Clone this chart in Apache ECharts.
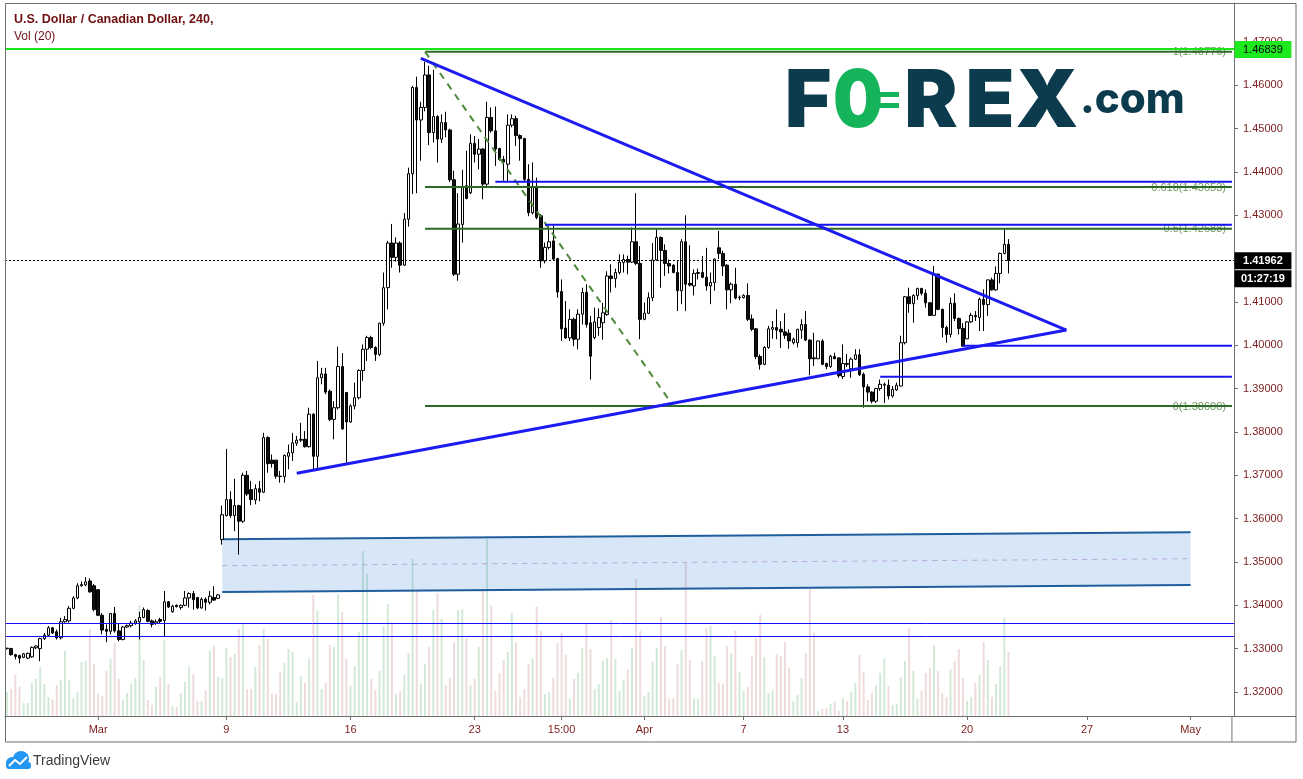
<!DOCTYPE html>
<html>
<head>
<meta charset="utf-8">
<title>U.S. Dollar / Canadian Dollar, 240</title>
<script src="https://cdn.jsdelivr.net/npm/echarts@6/dist/echarts.min.js"></script>
<style>
  html, body { margin: 0; padding: 0; background: #fff; }
  #chart { width: 1303px; height: 779px; }
</style>
</head>
<body>
<div id="chart"></div>
<script>
// 4h USD/CAD candles
const opens = [
  1.3300, 1.3300, 1.3286, 1.3284, 1.3280, 1.3278, 1.3281, 1.3302, 1.3300, 1.3323,
  1.3331, 1.3348, 1.3339, 1.3325, 1.3362, 1.3364, 1.3393, 1.3417, 1.3445, 1.3447,
  1.3456, 1.3445, 1.3436, 1.3377, 1.3344, 1.3340, 1.3381, 1.3341, 1.3321, 1.3350,
  1.3353, 1.3359, 1.3362, 1.3372, 1.3388, 1.3364, 1.3359, 1.3367, 1.3365, 1.3408,
  1.3385, 1.3400, 1.3395, 1.3400, 1.3417, 1.3427, 1.3418, 1.3394, 1.3414, 1.3407,
  1.3418, 1.3416, 1.3552, 1.3607, 1.3644, 1.3607, 1.3630, 1.3594, 1.3700, 1.3667,
  1.3643, 1.3669, 1.3661, 1.3787, 1.3735, 1.3735, 1.3698, 1.3697, 1.3744, 1.3752,
  1.3774, 1.3781, 1.3783, 1.3766, 1.3841, 1.3744, 1.3925, 1.3934, 1.3894, 1.3829,
  1.3856, 1.3951, 1.3891, 1.3823, 1.3860, 1.3879, 1.3942, 1.3991, 1.4018, 1.3995,
  1.3979, 1.4051, 1.4133, 1.4236, 1.4203, 1.4236, 1.4185, 1.4291, 1.4396, 1.4595,
  1.4520, 1.4549, 1.4624, 1.4491, 1.4528, 1.4476, 1.4514, 1.4497, 1.4382, 1.4164,
  1.4279, 1.4368, 1.4352, 1.4466, 1.4441, 1.4453, 1.4372, 1.4526, 1.4495, 1.4454,
  1.4429, 1.4418, 1.4508, 1.4523, 1.4484, 1.4477, 1.4383, 1.4306, 1.4364, 1.4299,
  1.4195, 1.4226, 1.4241, 1.4200, 1.4124, 1.4040, 1.4017, 1.4060, 1.4014, 1.4072,
  1.4122, 1.4052, 1.4018, 1.4041, 1.4052, 1.4071, 1.4160, 1.4154, 1.4168, 1.4191,
  1.4198, 1.4192, 1.4239, 1.4189, 1.4060, 1.4074, 1.4110, 1.4197, 1.4249, 1.4219,
  1.4189, 1.4185, 1.4168, 1.4126, 1.4239, 1.4143, 1.4137, 1.4166, 1.4168, 1.4157,
  1.4137, 1.4145, 1.4225, 1.4212, 1.4185, 1.4128, 1.4141, 1.4110, 1.4110, 1.4115,
  1.4061, 1.4038, 1.3974, 1.3956, 1.3995, 1.4037, 1.4041, 1.4037, 1.4031, 1.4028,
  1.4006, 1.4006, 1.4035, 1.4048, 1.4012, 1.3971, 1.3969, 1.4010, 1.3958, 1.3951,
  1.3974, 1.3971, 1.3928, 1.3958, 1.3946, 1.3968, 1.3978, 1.3933, 1.3904, 1.3892,
  1.3871, 1.3900, 1.3908, 1.3908, 1.3883, 1.3897, 1.3906, 1.4006, 1.4112, 1.4096,
  1.4115, 1.4131, 1.4120, 1.4098, 1.4069, 1.4164, 1.4083, 1.4041, 1.4025, 1.4097,
  1.4062, 1.4039, 1.4015, 1.4054, 1.4069, 1.4064, 1.4106, 1.4094, 1.4151, 1.4128,
  1.4166, 1.4212, 1.4233
];
const highs = [
  1.3302, 1.3302, 1.3288, 1.3286, 1.3290, 1.3291, 1.3305, 1.3308, 1.3325, 1.3336,
  1.3352, 1.3350, 1.3344, 1.3371, 1.3375, 1.3398, 1.3421, 1.3451, 1.3455, 1.3465,
  1.3462, 1.3449, 1.3437, 1.3382, 1.3356, 1.3382, 1.3396, 1.3358, 1.3352, 1.3356,
  1.3364, 1.3368, 1.3385, 1.3395, 1.3391, 1.3367, 1.3367, 1.3371, 1.3433, 1.3410,
  1.3401, 1.3402, 1.3402, 1.3433, 1.3430, 1.3433, 1.3418, 1.3418, 1.3418, 1.3433,
  1.3444, 1.3426, 1.3630, 1.3761, 1.3663, 1.3692, 1.3632, 1.3706, 1.3710, 1.3687,
  1.3679, 1.3687, 1.3798, 1.3790, 1.3748, 1.3735, 1.3710, 1.3748, 1.3771, 1.3798,
  1.3791, 1.3821, 1.3802, 1.3856, 1.3843, 1.3964, 1.3948, 1.3948, 1.3898, 1.3871,
  1.3997, 1.3982, 1.3891, 1.3864, 1.3914, 1.3945, 1.4002, 1.4022, 1.4022, 1.3998,
  1.4052, 1.4168, 1.4241, 1.4280, 1.4249, 1.4240, 1.4305, 1.4410, 1.4599, 1.4620,
  1.4562, 1.4654, 1.4645, 1.4636, 1.4531, 1.4533, 1.4539, 1.4500, 1.4403, 1.4351,
  1.4405, 1.4449, 1.4487, 1.4483, 1.4476, 1.4455, 1.4562, 1.4549, 1.4551, 1.4456,
  1.4437, 1.4533, 1.4533, 1.4530, 1.4487, 1.4479, 1.4418, 1.4422, 1.4387, 1.4303,
  1.4237, 1.4275, 1.4277, 1.4202, 1.4152, 1.4102, 1.4083, 1.4064, 1.4083, 1.4133,
  1.4141, 1.4068, 1.4087, 1.4085, 1.4098, 1.4171, 1.4187, 1.4177, 1.4210, 1.4210,
  1.4207, 1.4272, 1.4351, 1.4229, 1.4099, 1.4122, 1.4236, 1.4268, 1.4251, 1.4233,
  1.4198, 1.4187, 1.4195, 1.4245, 1.4300, 1.4231, 1.4175, 1.4177, 1.4206, 1.4225,
  1.4168, 1.4200, 1.4264, 1.4218, 1.4187, 1.4145, 1.4179, 1.4115, 1.4118, 1.4143,
  1.4071, 1.4040, 1.3979, 1.3998, 1.4045, 1.4056, 1.4083, 1.4056, 1.4074, 1.4037,
  1.4018, 1.4038, 1.4060, 1.4079, 1.4014, 1.4029, 1.4011, 1.4014, 1.3960, 1.3978,
  1.3983, 1.3972, 1.4002, 1.3980, 1.3972, 1.3991, 1.3991, 1.3937, 1.3910, 1.3894,
  1.3902, 1.3921, 1.3914, 1.3921, 1.3906, 1.3914, 1.4022, 1.4114, 1.4133, 1.4118,
  1.4133, 1.4133, 1.4129, 1.4100, 1.4183, 1.4166, 1.4085, 1.4045, 1.4110, 1.4120,
  1.4064, 1.4051, 1.4056, 1.4075, 1.4079, 1.4110, 1.4129, 1.4152, 1.4156, 1.4182,
  1.4214, 1.4268, 1.4245
];
const lows = [
  1.3298, 1.3284, 1.3275, 1.3266, 1.3278, 1.3276, 1.3279, 1.3299, 1.3271, 1.3320,
  1.3329, 1.3334, 1.3321, 1.3321, 1.3360, 1.3360, 1.3391, 1.3414, 1.3443, 1.3444,
  1.3429, 1.3386, 1.3375, 1.3333, 1.3315, 1.3333, 1.3337, 1.3317, 1.3319, 1.3348,
  1.3349, 1.3355, 1.3321, 1.3370, 1.3361, 1.3349, 1.3355, 1.3359, 1.3329, 1.3394,
  1.3383, 1.3395, 1.3390, 1.3398, 1.3395, 1.3390, 1.3391, 1.3392, 1.3388, 1.3402,
  1.3410, 1.3414, 1.3540, 1.3605, 1.3602, 1.3571, 1.3517, 1.3590, 1.3652, 1.3631,
  1.3633, 1.3640, 1.3659, 1.3706, 1.3718, 1.3692, 1.3683, 1.3683, 1.3714, 1.3733,
  1.3768, 1.3777, 1.3764, 1.3764, 1.3714, 1.3710, 1.3910, 1.3887, 1.3825, 1.3783,
  1.3852, 1.3805, 1.3729, 1.3821, 1.3852, 1.3875, 1.3918, 1.3964, 1.3991, 1.3964,
  1.3975, 1.4045, 1.4083, 1.4179, 1.4193, 1.4168, 1.4183, 1.4274, 1.4349, 1.4351,
  1.4426, 1.4540, 1.4462, 1.4468, 1.4422, 1.4467, 1.4480, 1.4377, 1.4160, 1.4149,
  1.4237, 1.4337, 1.4349, 1.4422, 1.4406, 1.4337, 1.4368, 1.4491, 1.4414, 1.4426,
  1.4380, 1.4376, 1.4503, 1.4460, 1.4426, 1.4376, 1.4298, 1.4302, 1.4291, 1.4179,
  1.4189, 1.4221, 1.4195, 1.4110, 1.4010, 1.4015, 1.4010, 1.3998, 1.3991, 1.4048,
  1.4041, 1.3921, 1.4014, 1.4022, 1.4013, 1.4068, 1.4122, 1.4133, 1.4164, 1.4168,
  1.4164, 1.4190, 1.4185, 1.4014, 1.4058, 1.4072, 1.4102, 1.4195, 1.4133, 1.4160,
  1.4166, 1.4166, 1.4079, 1.4095, 1.4079, 1.4136, 1.4115, 1.4152, 1.4155, 1.4126,
  1.4095, 1.4126, 1.4199, 1.4160, 1.4083, 1.4097, 1.4106, 1.4104, 1.4108, 1.4056,
  1.4033, 1.3968, 1.3944, 1.3954, 1.3992, 1.4015, 1.4014, 1.3994, 1.4015, 1.3992,
  1.4002, 1.3995, 1.4015, 1.4010, 1.3931, 1.3952, 1.3968, 1.3954, 1.3945, 1.3948,
  1.3968, 1.3925, 1.3922, 1.3950, 1.3925, 1.3966, 1.3929, 1.3856, 1.3871, 1.3866,
  1.3867, 1.3895, 1.3867, 1.3875, 1.3879, 1.3895, 1.3905, 1.4002, 1.4075, 1.4052,
  1.4105, 1.4115, 1.4087, 1.4068, 1.4068, 1.4081, 1.4018, 1.4006, 1.4018, 1.4056,
  1.4025, 1.3998, 1.4014, 1.4052, 1.4056, 1.4033, 1.4033, 1.4068, 1.4126, 1.4126,
  1.4143, 1.4210, 1.4166
];
const closes = [
  1.3301, 1.3286, 1.3282, 1.3278, 1.3288, 1.3289, 1.3303, 1.3306, 1.3323, 1.3331,
  1.3348, 1.3336, 1.3325, 1.3362, 1.3367, 1.3393, 1.3417, 1.3445, 1.3448, 1.3454,
  1.3431, 1.3390, 1.3377, 1.3343, 1.3340, 1.3381, 1.3341, 1.3321, 1.3350, 1.3353,
  1.3359, 1.3364, 1.3372, 1.3390, 1.3363, 1.3356, 1.3362, 1.3363, 1.3408, 1.3396,
  1.3398, 1.3397, 1.3400, 1.3417, 1.3427, 1.3413, 1.3394, 1.3414, 1.3407, 1.3421,
  1.3412, 1.3424, 1.3609, 1.3644, 1.3607, 1.3630, 1.3594, 1.3700, 1.3657, 1.3644,
  1.3669, 1.3661, 1.3787, 1.3727, 1.3727, 1.3698, 1.3697, 1.3746, 1.3752, 1.3775,
  1.3781, 1.3783, 1.3766, 1.3841, 1.3744, 1.3925, 1.3934, 1.3892, 1.3829, 1.3856,
  1.3951, 1.3807, 1.3823, 1.3860, 1.3879, 1.3942, 1.3991, 1.4018, 1.3995, 1.3979,
  1.4051, 1.4133, 1.4236, 1.4203, 1.4236, 1.4185, 1.4291, 1.4396, 1.4595, 1.4520,
  1.4549, 1.4624, 1.4491, 1.4528, 1.4476, 1.4514, 1.4497, 1.4382, 1.4164, 1.4280,
  1.4364, 1.4339, 1.4466, 1.4441, 1.4453, 1.4372, 1.4526, 1.4495, 1.4453, 1.4429,
  1.4423, 1.4508, 1.4523, 1.4484, 1.4477, 1.4383, 1.4306, 1.4364, 1.4295, 1.4195,
  1.4226, 1.4239, 1.4199, 1.4123, 1.4038, 1.4017, 1.4060, 1.4014, 1.4072, 1.4122,
  1.4048, 1.3975, 1.4054, 1.4064, 1.4075, 1.4160, 1.4154, 1.4168, 1.4192, 1.4198,
  1.4192, 1.4239, 1.4189, 1.4060, 1.4074, 1.4110, 1.4197, 1.4249, 1.4219, 1.4189,
  1.4183, 1.4168, 1.4126, 1.4239, 1.4141, 1.4139, 1.4166, 1.4168, 1.4157, 1.4137,
  1.4145, 1.4199, 1.4212, 1.4183, 1.4128, 1.4141, 1.4109, 1.4111, 1.4115, 1.4060,
  1.4037, 1.3974, 1.3956, 1.3995, 1.4038, 1.4041, 1.4035, 1.4031, 1.4023, 1.4010,
  1.4014, 1.4037, 1.4048, 1.4012, 1.3969, 1.3969, 1.4010, 1.3956, 1.3951, 1.3975,
  1.3969, 1.3930, 1.3958, 1.3956, 1.3968, 1.3978, 1.3932, 1.3904, 1.3892, 1.3871,
  1.3900, 1.3910, 1.3910, 1.3883, 1.3898, 1.3908, 1.4006, 1.4112, 1.4096, 1.4115,
  1.4131, 1.4120, 1.4098, 1.4069, 1.4164, 1.4083, 1.4041, 1.4025, 1.4097, 1.4062,
  1.4039, 1.3998, 1.4054, 1.4069, 1.4066, 1.4106, 1.4094, 1.4151, 1.4128, 1.4166,
  1.4212, 1.4233, 1.4196
];
// volume, relative units
const volumes = [
  24, 27, 41, 29, 13, 13, 33, 37, 49, 32,
  19, 17, 31, 36, 65, 36, 18, 24, 54, 55,
  87, 52, 22, 20, 45, 57, 73, 37, 16, 23,
  32, 38, 111, 56, 16, 11, 29, 39, 76, 32,
  10, 9, 23, 34, 49, 42, 15, 15, 26, 65,
  70, 39, 38, 68, 59, 62, 87, 92, 27, 27,
  49, 71, 87, 77, 22, 22, 44, 53, 67, 64,
  14, 40, 33, 57, 121, 105, 27, 33, 71, 69,
  122, 104, 57, 30, 50, 84, 165, 142, 37, 26,
  45, 90, 112, 94, 22, 25, 41, 63, 157, 125,
  32, 52, 69, 106, 123, 97, 31, 38, 74, 106,
  107, 78, 31, 37, 69, 125, 177, 110, 25, 43,
  56, 64, 103, 74, 19, 27, 52, 58, 109, 85,
  22, 24, 38, 73, 83, 61, 17, 37, 43, 68,
  93, 67, 27, 32, 55, 58, 96, 57, 25, 36,
  46, 68, 137, 85, 20, 24, 54, 68, 99, 70,
  17, 18, 52, 66, 153, 56, 17, 17, 55, 88,
  90, 60, 33, 32, 70, 63, 85, 44, 25, 29,
  60, 78, 101, 59, 23, 26, 62, 60, 74, 48,
  15, 21, 38, 63, 127, 83, 5, 7, 8, 12,
  15, 5, 18, 15, 24, 33, 61, 44, 16, 23,
  31, 43, 57, 30, 11, 12, 39, 55, 88, 45,
  17, 25, 43, 48, 71, 45, 23, 19, 47, 55,
  67, 38, 15, 19, 33, 41, 74, 56, 19, 32,
  50, 98, 64
];

const totalSlots = 297; // candles + empty space to the right
const tickIndex = [22, 53, 83, 113, 134, 154, 178, 202, 232, 261, 286];
const tickText = ['Mar', '9', '16', '23', '15:00', 'Apr', '7', '13', '20', '27', 'May'];
const priceTicks = [1.32, 1.33, 1.34, 1.35, 1.36, 1.37, 1.38, 1.39, 1.40, 1.41, 1.42, 1.43, 1.44, 1.45, 1.46, 1.47];
const lastPrice = 1.41962;
const highMark = 1.46839;
const countdown = '01:27:19';

// fibonacci retracement
const fibLevels = ['1', '0.618', '0.5', '0'];
const fibPrices = [1.46776, 1.43653, 1.42688, 1.38600];
const fibStart = 101;
const fibDiagonal = [101, 1.46776, 161, 1.38600];

// triangle
const upperTrend = [100, 1.46624, 256, 1.40353];
const lowerTrend = [70, 1.37046, 256, 1.40353];

// horizontal levels
const levelStart = [118, 130, 231, 211];
const levelPrice = [1.43776, 1.42783, 1.39991, 1.39275];
const supportLines = [1.33584, 1.33291];

// gap channel
const channelTop = [52, 1.35523, 286, 1.35684];
const channelMid = [52, 1.34914, 286, 1.35075];
const channelBottom = [52, 1.34307, 286, 1.34469];

const axisRed = '#7b1b1b';
const frameGray = '#6f6f6f';

const chart = echarts.init(document.getElementById('chart'));

function segment(c, color, width, type, z) {
  return {
    type: 'line',
    data: [[c[0], c[1]], [c[2], c[3]]],
    symbol: 'none',
    silent: true,
    animation: false,
    lineStyle: { color: color, width: width, type: type || 'solid' },
    z: z || 6
  };
}

const categories = Array.from({ length: totalSlots }, (_, i) => String(i));
const candleData = opens.map((o, i) => [o, closes[i], lows[i], highs[i]]);
const volumeData = volumes.map((v, i) => ({
  value: v,
  itemStyle: { color: closes[i] >= opens[i] ? '#d3e9d8' : '#efdbdb' }
}));

const series = [
  {
    type: 'bar',
    yAxisIndex: 1,
    data: volumeData,
    barWidth: 2,
    silent: true,
    z: 1
  },
  {
    type: 'custom',
    silent: true,
    z: 2,
    data: [[channelTop[0], channelTop[1]]],
    renderItem: function (params, api) {
      const pts = [
        api.coord([channelTop[0], channelTop[1]]),
        api.coord([channelTop[2], channelTop[3]]),
        api.coord([channelBottom[2], channelBottom[3]]),
        api.coord([channelBottom[0], channelBottom[1]])
      ];
      return {
        type: 'polygon',
        shape: { points: pts },
        style: { fill: 'rgba(40,120,210,0.18)' }
      };
    }
  },
  segment(channelTop, '#1f5d9c', 2, 'solid', 3),
  segment(channelBottom, '#1f5d9c', 2, 'solid', 3),
  segment(channelMid, '#b9a8dd', 1, [5, 5], 3),
  {
    type: 'candlestick',
    data: candleData,
    barWidth: 3,
    z: 4,
    itemStyle: {
      color: '#ffffff',
      color0: '#111111',
      borderColor: '#000000',
      borderColor0: '#000000',
      borderWidth: 1
    },
    markLine: {
      silent: true,
      symbol: 'none',
      animation: false,
      precision: 5,
      label: { show: false },
      data: [
        { yAxis: highMark, lineStyle: { color: '#19e619', width: 2, type: 'solid' } },
        { yAxis: lastPrice, lineStyle: { color: '#000000', width: 1, type: [2, 2] } },
        { yAxis: supportLines[0], lineStyle: { color: '#1010ff', width: 1, type: 'solid' } },
        { yAxis: supportLines[1], lineStyle: { color: '#1010ff', width: 1, type: 'solid' } }
      ]
    }
  }
];

fibPrices.forEach(p => series.push(segment([fibStart, p, totalSlots - 1, p], '#2d6a27', 2, 'solid', 6)));
series.push(segment(fibDiagonal, '#4d8a3b', 2, [7, 6], 6));
levelPrice.forEach((p, k) => series.push(segment([levelStart[k], p, totalSlots - 1, p], '#1414f0', 2, 'solid', 6)));
series.push(segment(upperTrend, '#1c1cf2', 3, 'solid', 7));
series.push(segment(lowerTrend, '#1c1cf2', 3, 'solid', 7));

chart.setOption({
  animation: false,
  backgroundColor: '#ffffff',
  grid: { left: 5, right: 69, top: 3, bottom: 63 },
  xAxis: {
    type: 'category',
    data: categories,
    boundaryGap: true,
    axisLine: { show: true, lineStyle: { color: frameGray, width: 1 } },
    axisTick: {
      show: true,
      alignWithLabel: true,
      length: 4,
      interval: idx => tickIndex.includes(idx),
      lineStyle: { color: frameGray }
    },
    axisLabel: {
      interval: idx => tickIndex.includes(idx),
      formatter: (v, idx) => {
        const k = tickIndex.indexOf(idx);
        return k >= 0 ? tickText[k] : '';
      },
      color: axisRed,
      fontFamily: 'Liberation Sans',
      fontSize: 11,
      margin: 8
    },
    splitLine: { show: false }
  },
  yAxis: [
    {
      type: 'value',
      position: 'right',
      min: 1.31445,
      max: 1.47900,
      axisLine: { show: true, lineStyle: { color: frameGray, width: 1 } },
      axisTick: { show: true, length: 4, customValues: priceTicks, lineStyle: { color: frameGray } },
      axisLabel: {
        customValues: priceTicks,
        formatter: v => v.toFixed(5),
        color: axisRed,
        fontFamily: 'Liberation Sans',
        fontSize: 11,
        margin: 9
      },
      splitLine: { show: false }
    },
    { type: 'value', min: 0, max: 713, show: false }
  ],
  series: series
});

// overlay texts and boxes placed through the chart's own scales
const toPx = (i, p) => chart.convertToPixel({ xAxisIndex: 0, yAxisIndex: 0 }, [i, p]);
const axisX = toPx(totalSlots - 1, 1.4)[0] + 2.5;
const graphics = [];

fibPrices.forEach((p, k) => {
  const pt = toPx(totalSlots - 1, p);
  graphics.push({
    type: 'text', x: pt[0] - 6, y: pt[1] + 0.5, z: 3,
    style: {
      text: fibLevels[k] + '(' + p.toFixed(5) + ')',
      fill: '#6d9a5f', font: '11px "Liberation Sans"',
      align: 'right', verticalAlign: 'middle'
    }
  });
});

function priceBox(p, dy, text, bg, fg, bold) {
  const y = toPx(0, p)[1] + dy;
  graphics.push({
    type: 'rect', z: 20,
    shape: { x: axisX, y: y - 8, width: 57, height: 17 },
    style: { fill: bg }
  });
  graphics.push({
    type: 'text', z: 21, x: axisX + 28.5, y: y + 0.5,
    style: {
      text: text, fill: fg, align: 'center', verticalAlign: 'middle',
      font: (bold ? 'bold ' : '') + '11px "Liberation Sans"'
    }
  });
}
priceBox(highMark, 0, highMark.toFixed(5), '#1ee81e', '#000000', false);
priceBox(lastPrice, 0, lastPrice.toFixed(5), '#000000', '#ffffff', true);
priceBox(lastPrice, 18, countdown, '#000000', '#ffffff', true);

// title
graphics.push({
  type: 'text', x: 14, y: 20, z: 20,
  style: { text: 'U.S. Dollar / Canadian Dollar, 240,', fill: '#6e0f0f', font: 'bold 12.5px "Liberation Sans"', verticalAlign: 'middle' }
});
graphics.push({
  type: 'text', x: 14, y: 37, z: 20,
  style: { text: 'Vol (20)', fill: '#6e0f0f', font: '12px "Liberation Sans"', verticalAlign: 'middle' }
});

// FOREX.com watermark
const logoTeal = '#0c3b4e';
const logoGreen = '#15b45a';
[['F', 808], ['R', 931], ['E', 990], ['X', 1047]].forEach(l => {
  graphics.push({
    type: 'text', x: l[1], y: 103, z: 2,
    style: { text: l[0], fill: logoTeal, font: '900 80px Inter', align: 'center', verticalAlign: 'middle' }
  });
});
graphics.push({
  type: 'text', x: 858, y: 103, z: 2, scaleX: 0.88,
  style: { text: '0', fill: logoGreen, font: '900 80px Inter', align: 'center', verticalAlign: 'middle' }
});
graphics.push({ type: 'rect', z: 2, shape: { x: 868, y: 92, width: 31, height: 5 }, style: { fill: logoGreen } });
graphics.push({ type: 'rect', z: 2, shape: { x: 868, y: 103, width: 31, height: 5 }, style: { fill: logoGreen } });
graphics.push({
  type: 'text', x: 1080, y: 100, z: 2,
  style: { text: '.com', fill: logoTeal, font: '800 42px Inter', align: 'left', verticalAlign: 'middle' }
});

// frame around panes
graphics.push({ type: 'rect', z: 30, shape: { x: 5.5, y: 3.5, width: 1290.5, height: 738.5 }, style: { fill: null, stroke: frameGray, lineWidth: 1 } });
graphics.push({ type: 'line', z: 30, shape: { x1: axisX - 2.5, y1: 716, x2: axisX - 2.5, y2: 742 }, style: { stroke: frameGray, lineWidth: 1 } });
graphics.push({ type: 'line', z: 30, shape: { x1: axisX - 2.5, y1: 716.5, x2: 1296, y2: 716.5 }, style: { stroke: frameGray, lineWidth: 1 } });

// TradingView footer
graphics.push({ type: 'circle', z: 20, shape: { cx: 12, cy: 763, r: 6 }, style: { fill: '#2196f3' } });
graphics.push({ type: 'circle', z: 20, shape: { cx: 21, cy: 759, r: 8 }, style: { fill: '#2196f3' } });
graphics.push({ type: 'rect', z: 20, shape: { x: 6, y: 762, width: 25, height: 7, r: 3 }, style: { fill: '#2196f3' } });
graphics.push({ type: 'polyline', z: 21, shape: { points: [[9, 766], [15, 760], [20, 764], [27, 757]] }, style: { stroke: '#ffffff', lineWidth: 2, fill: null } });
graphics.push({
  type: 'text', x: 33, y: 761, z: 20,
  style: { text: 'TradingView', fill: '#3b3b3b', font: '14px "Liberation Sans"', verticalAlign: 'middle' }
});

chart.setOption({ graphic: graphics });
</script>
</body>
</html>
